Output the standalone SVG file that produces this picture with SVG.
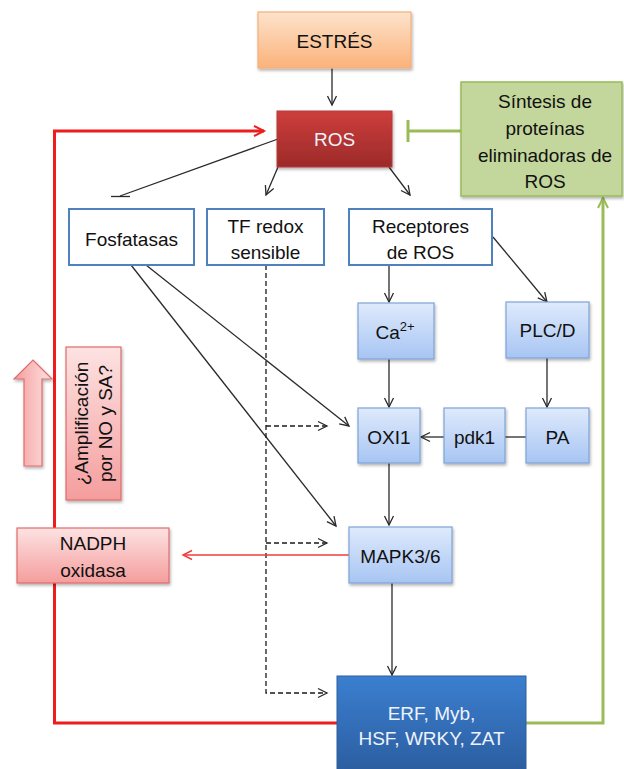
<svg xmlns="http://www.w3.org/2000/svg" width="624" height="769" viewBox="0 0 624 769">
  <defs>
    <style>
      text { font-family: "Liberation Sans", Arial, sans-serif; font-size: 19px; fill: #111111; text-anchor: middle; dominant-baseline: central; }
      .light { fill: #eef3fb; }
      .white-box { fill: #ffffff; stroke: #4f81bd; stroke-width: 2; }
      .blue-box { fill: url(#gBlue); stroke: #7ea3d6; stroke-width: 1.2; filter: url(#shadow); }
      .link { fill: none; stroke: #2a2a2a; stroke-width: 1.3; }
      .dash { fill: none; stroke: #1a1a1a; stroke-width: 1.3; stroke-dasharray: 5 3; }
      .red-thick { fill: none; stroke: #ee1c1c; stroke-width: 3; }
      .red-thin { fill: none; stroke: #f03c3c; stroke-width: 1.4; }
      .green-thick { fill: none; stroke: #9bbb59; stroke-width: 3; }
    </style>
    <linearGradient id="gOrange" x1="0" y1="0" x2="0" y2="1">
      <stop offset="0" stop-color="#fde3cc"/>
      <stop offset="1" stop-color="#fbb27a"/>
    </linearGradient>
    <linearGradient id="gRos" x1="0" y1="0" x2="0" y2="1">
      <stop offset="0" stop-color="#cd3e3c"/>
      <stop offset="1" stop-color="#9c2a29"/>
    </linearGradient>
    <linearGradient id="gBlue" x1="0" y1="0" x2="0" y2="1">
      <stop offset="0" stop-color="#dfeafc"/>
      <stop offset="1" stop-color="#a7c5f3"/>
    </linearGradient>
    <linearGradient id="gPink" x1="0" y1="0" x2="0" y2="1">
      <stop offset="0" stop-color="#fde2e2"/>
      <stop offset="1" stop-color="#f59d9d"/>
    </linearGradient>
    <linearGradient id="gPinkH" x1="1" y1="0" x2="0" y2="0">
      <stop offset="0" stop-color="#fde2e2"/>
      <stop offset="1" stop-color="#f59d9d"/>
    </linearGradient>
    <linearGradient id="gDarkBlue" x1="0" y1="0" x2="0" y2="1">
      <stop offset="0" stop-color="#3b7fd0"/>
      <stop offset="1" stop-color="#2b5c9e"/>
    </linearGradient>
    <filter id="shadow" x="-10%" y="-10%" width="130%" height="140%">
      <feDropShadow dx="1" dy="2" stdDeviation="1.5" flood-color="#000" flood-opacity="0.3"/>
    </filter>
    <marker id="arrow" markerUnits="userSpaceOnUse" markerWidth="13" markerHeight="13" refX="10" refY="6" orient="auto">
      <path d="M1,1.5 L10,6 L1,10.5" fill="none" stroke="#2a2a2a" stroke-width="1.3"/>
    </marker>
    <marker id="arrowRed" markerUnits="userSpaceOnUse" markerWidth="14" markerHeight="14" refX="11" refY="6" orient="auto">
      <path d="M1,1 L11,6 L1,11" fill="none" stroke="#ee1c1c" stroke-width="2"/>
    </marker>
    <marker id="arrowRedThin" markerUnits="userSpaceOnUse" markerWidth="13" markerHeight="13" refX="10" refY="6" orient="auto">
      <path d="M1,1.5 L10,6 L1,10.5" fill="none" stroke="#f03c3c" stroke-width="1.4"/>
    </marker>
    <marker id="arrowGreen" markerUnits="userSpaceOnUse" markerWidth="14" markerHeight="14" refX="11" refY="6" orient="auto">
      <path d="M1,1 L11,6 L1,11" fill="none" stroke="#9bbb59" stroke-width="2"/>
    </marker>
  </defs>

  <rect width="624" height="769" fill="#ffffff"/>

  <!-- connectors -->
  <g id="connectors">
    <!-- feedback loops -->
    <polyline class="red-thick" points="337,723 54.5,723 54.5,131 264,131" marker-end="url(#arrowRed)"/>
    <polyline class="green-thick" points="526,723 603,723 603,198" marker-end="url(#arrowGreen)"/>
    <line class="green-thick" x1="461" y1="131" x2="408" y2="131"/>
    <line class="green-thick" x1="408" y1="120" x2="408" y2="142"/>

    <line class="link" x1="332" y1="68" x2="332" y2="105" marker-end="url(#arrow)"/>
    <!-- ROS inhibits phosphatases -->
    <line class="link" x1="278" y1="139" x2="120" y2="196"/>
    <line class="link" x1="111" y1="196.5" x2="130" y2="196.5"/>
    <line class="link" x1="278" y1="167" x2="266" y2="195" marker-end="url(#arrow)"/>
    <line class="link" x1="389" y1="167" x2="410" y2="195" marker-end="url(#arrow)"/>

    <line class="link" x1="389" y1="265" x2="389" y2="302" marker-end="url(#arrow)"/>
    <line class="link" x1="493" y1="237" x2="547" y2="302" marker-end="url(#arrow)"/>
    <line class="link" x1="389" y1="359" x2="389" y2="407" marker-end="url(#arrow)"/>
    <line class="link" x1="547" y1="358" x2="547" y2="407" marker-end="url(#arrow)"/>
    <line class="link" x1="526" y1="437" x2="505" y2="437"/>
    <line class="link" x1="444" y1="437" x2="421" y2="437" marker-end="url(#arrow)"/>

    <line class="link" x1="146" y1="265" x2="349" y2="426" marker-end="url(#arrow)"/>
    <line class="link" x1="131" y1="265" x2="336" y2="526" marker-end="url(#arrow)"/>
    <line class="link" x1="389" y1="463" x2="389" y2="525" marker-end="url(#arrow)"/>
    <line class="link" x1="392" y1="583" x2="392" y2="675" marker-end="url(#arrow)"/>

    <!-- redox-sensitive TF (dashed) -->
    <polyline class="dash" points="266,265 266,693 327,693" marker-end="url(#arrow)"/>
    <line class="dash" x1="266" y1="426" x2="327" y2="426" marker-end="url(#arrow)"/>
    <line class="dash" x1="266" y1="543" x2="327" y2="543" marker-end="url(#arrow)"/>

    <line class="red-thin" x1="349" y1="555" x2="183" y2="555" marker-end="url(#arrowRedThin)"/>
  </g>

  <g id="estres">
    <rect x="258" y="12" width="153" height="56" fill="url(#gOrange)" stroke="#f6b07a" stroke-width="1.2" filter="url(#shadow)"/>
    <text x="334.5" y="41">ESTRÉS</text>
  </g>

  <g id="ros">
    <rect x="277" y="111" width="115" height="56" fill="url(#gRos)" stroke="#b83b3a" stroke-width="1" filter="url(#shadow)"/>
    <text class="light" x="334.5" y="139">ROS</text>
  </g>

  <g id="sintesis">
    <rect x="461" y="82" width="161" height="114" fill="#c3d69b" stroke="#9bbb59" stroke-width="1.5" filter="url(#shadow)"/>
    <text x="545" y="101">Síntesis de</text>
    <text x="545" y="128">proteínas</text>
    <text x="545" y="155">eliminadoras de</text>
    <text x="545" y="181">ROS</text>
  </g>

  <g id="fosfatasas">
    <rect class="white-box" x="69" y="209" width="125" height="56"/>
    <text x="131.5" y="239">Fosfatasas</text>
  </g>

  <g id="tf-redox">
    <rect class="white-box" x="207" y="209" width="117" height="56"/>
    <text x="265.5" y="226">TF redox</text>
    <text x="265.5" y="252">sensible</text>
  </g>

  <g id="receptores">
    <rect class="white-box" x="349" y="209" width="143" height="56"/>
    <text x="420.5" y="226">Receptores</text>
    <text x="420.5" y="252">de ROS</text>
  </g>

  <g id="calcio">
    <rect class="blue-box" x="358" y="303" width="76" height="56"/>
    <text x="395" y="332">Ca<tspan font-size="13" dy="-6">2+</tspan></text>
  </g>

  <g id="plc-d">
    <rect class="blue-box" x="506" y="302" width="83" height="56"/>
    <text x="547.5" y="330">PLC/D</text>
  </g>

  <g id="oxi1">
    <rect class="blue-box" x="358" y="408" width="62" height="55"/>
    <text x="389" y="437">OXI1</text>
  </g>

  <g id="pdk1">
    <rect class="blue-box" x="444" y="408" width="61" height="55"/>
    <text x="474.5" y="437">pdk1</text>
  </g>

  <g id="pa">
    <rect class="blue-box" x="526" y="408" width="63" height="55"/>
    <text x="557.5" y="437">PA</text>
  </g>

  <g id="mapk">
    <rect class="blue-box" x="349" y="527" width="103" height="56"/>
    <text x="400.5" y="556">MAPK3/6</text>
  </g>

  <g id="nadph">
    <rect x="17" y="528" width="152" height="55" fill="url(#gPink)" stroke="#e06c6c" stroke-width="1.2" filter="url(#shadow)"/>
    <text x="93" y="543">NADPH</text>
    <text x="93" y="570">oxidasa</text>
  </g>

  <g id="factores">
    <rect x="337" y="676" width="189" height="100" fill="url(#gDarkBlue)" stroke="#2e5f9e" stroke-width="1"/>
    <text class="light" x="431.5" y="713">ERF, Myb,</text>
    <text class="light" x="431.5" y="738">HSF, WRKY, ZAT</text>
  </g>

  <g id="amplificacion">
    <path d="M24,466 L24,379 L14,379 L33,360 L52,379 L42,379 L42,466 Z" fill="url(#gPinkH)" stroke="#e06c6c" stroke-width="1.2" filter="url(#shadow)"/>
    <rect x="66" y="347" width="55" height="153" fill="url(#gPink)" stroke="#e06c6c" stroke-width="1.2" filter="url(#shadow)"/>
    <g transform="translate(93.5,423.5) rotate(-90)">
      <text x="0" y="-12">¿Amplificación</text>
      <text x="0" y="12">por NO y SA?</text>
    </g>
  </g>
</svg>
